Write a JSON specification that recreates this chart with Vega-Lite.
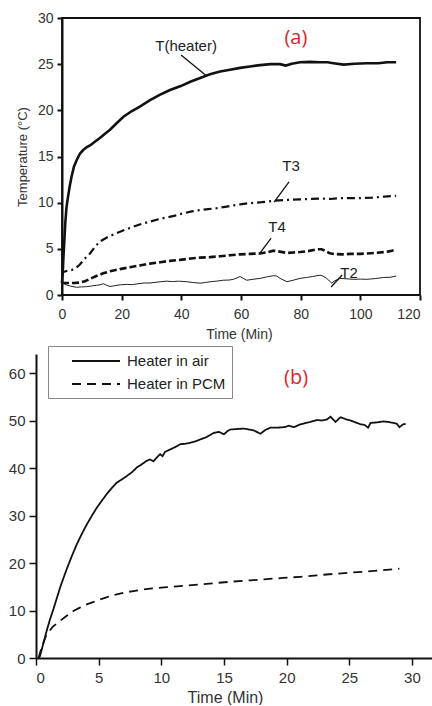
{
  "$schema": "https://vega.github.io/schema/vega-lite/v6.json",
  "padding": {"left": 8, "top": 11, "right": 0, "bottom": 0},
  "autosize": {"type": "pad"},
  "config": {
    "font": "Liberation Sans",
    "view": {"stroke": null},
    "axis": {"grid": false, "domainColor": "#111", "tickColor": "#111", "labelColor": "#333", "titleColor": "#333", "titleFontWeight": "normal", "labelFont": "Liberation Sans", "titleFont": "Liberation Sans"}
  },
  "datasets": {
    "a": [
      {"s":"T(heater)","t":0,"v":1.3},{"s":"T(heater)","t":0.3,"v":2.8},{"s":"T(heater)","t":0.5,"v":4.2},{"s":"T(heater)","t":0.8,"v":6},{"s":"T(heater)","t":1.1,"v":7.8},{"s":"T(heater)","t":1.5,"v":9.5},{"s":"T(heater)","t":2,"v":10.6},{"s":"T(heater)","t":2.6,"v":11.8},{"s":"T(heater)","t":3.2,"v":12.8},{"s":"T(heater)","t":4,"v":13.9},{"s":"T(heater)","t":4.9,"v":14.6},{"s":"T(heater)","t":6,"v":15.3},{"s":"T(heater)","t":7.1,"v":15.7},{"s":"T(heater)","t":8.2,"v":16},{"s":"T(heater)","t":9.4,"v":16.2},{"s":"T(heater)","t":11,"v":16.6},{"s":"T(heater)","t":12.7,"v":17},{"s":"T(heater)","t":14.5,"v":17.5},{"s":"T(heater)","t":16.1,"v":17.9},{"s":"T(heater)","t":18.3,"v":18.6},{"s":"T(heater)","t":20.6,"v":19.3},{"s":"T(heater)","t":23.3,"v":19.9},{"s":"T(heater)","t":26.1,"v":20.4},{"s":"T(heater)","t":29.5,"v":21.1},{"s":"T(heater)","t":32.9,"v":21.7},{"s":"T(heater)","t":36.2,"v":22.2},{"s":"T(heater)","t":39.6,"v":22.6},{"s":"T(heater)","t":43,"v":23.1},{"s":"T(heater)","t":46.3,"v":23.5},{"s":"T(heater)","t":49.6,"v":23.9},{"s":"T(heater)","t":53,"v":24.2},{"s":"T(heater)","t":56.3,"v":24.4},{"s":"T(heater)","t":59.7,"v":24.6},{"s":"T(heater)","t":63,"v":24.75},{"s":"T(heater)","t":66.4,"v":24.9},{"s":"T(heater)","t":70,"v":25},{"s":"T(heater)","t":73.1,"v":25},{"s":"T(heater)","t":75,"v":24.85},{"s":"T(heater)","t":77,"v":25.05},{"s":"T(heater)","t":79.8,"v":25.2},{"s":"T(heater)","t":83,"v":25.25},{"s":"T(heater)","t":86.5,"v":25.2},{"s":"T(heater)","t":89,"v":25.2},{"s":"T(heater)","t":91,"v":25.1},{"s":"T(heater)","t":94.4,"v":24.95},{"s":"T(heater)","t":98,"v":25.05},{"s":"T(heater)","t":102.2,"v":25.1},{"s":"T(heater)","t":106,"v":25.1},{"s":"T(heater)","t":109,"v":25.2},{"s":"T(heater)","t":112,"v":25.2},
      {"s":"T3","t":0,"v":2.1},{"s":"T3","t":0.5,"v":2.5},{"s":"T3","t":1.5,"v":2.6},{"s":"T3","t":3.2,"v":2.7},{"s":"T3","t":4.5,"v":2.9},{"s":"T3","t":6,"v":3.3},{"s":"T3","t":7.5,"v":3.9},{"s":"T3","t":9.4,"v":4.5},{"s":"T3","t":11,"v":5.2},{"s":"T3","t":12.7,"v":5.8},{"s":"T3","t":15.5,"v":6.3},{"s":"T3","t":18.3,"v":6.7},{"s":"T3","t":21,"v":7.05},{"s":"T3","t":23.9,"v":7.4},{"s":"T3","t":26.7,"v":7.7},{"s":"T3","t":29.5,"v":7.95},{"s":"T3","t":32.3,"v":8.2},{"s":"T3","t":35.1,"v":8.4},{"s":"T3","t":37.9,"v":8.6},{"s":"T3","t":40.7,"v":8.85},{"s":"T3","t":43.5,"v":9.05},{"s":"T3","t":46.3,"v":9.2},{"s":"T3","t":49,"v":9.3},{"s":"T3","t":51.9,"v":9.4},{"s":"T3","t":54.7,"v":9.55},{"s":"T3","t":57.5,"v":9.7},{"s":"T3","t":60.3,"v":9.85},{"s":"T3","t":63.1,"v":9.95},{"s":"T3","t":67,"v":10.05},{"s":"T3","t":70.9,"v":10.2},{"s":"T3","t":75,"v":10.3},{"s":"T3","t":79.8,"v":10.35},{"s":"T3","t":83,"v":10.4},{"s":"T3","t":86.5,"v":10.45},{"s":"T3","t":90,"v":10.4},{"s":"T3","t":93,"v":10.5},{"s":"T3","t":96.6,"v":10.5},{"s":"T3","t":100,"v":10.5},{"s":"T3","t":104,"v":10.55},{"s":"T3","t":108,"v":10.65},{"s":"T3","t":112,"v":10.75},
      {"s":"T4","t":0,"v":1.3},{"s":"T4","t":2,"v":1.3},{"s":"T4","t":4,"v":1.3},{"s":"T4","t":6,"v":1.35},{"s":"T4","t":7.7,"v":1.5},{"s":"T4","t":9.4,"v":1.75},{"s":"T4","t":11.5,"v":2.05},{"s":"T4","t":13.8,"v":2.35},{"s":"T4","t":16.5,"v":2.6},{"s":"T4","t":19.4,"v":2.8},{"s":"T4","t":22.7,"v":3.0},{"s":"T4","t":26.1,"v":3.2},{"s":"T4","t":29.5,"v":3.4},{"s":"T4","t":32.9,"v":3.55},{"s":"T4","t":36.2,"v":3.7},{"s":"T4","t":39.6,"v":3.8},{"s":"T4","t":43,"v":3.95},{"s":"T4","t":46.3,"v":4.05},{"s":"T4","t":49.6,"v":4.1},{"s":"T4","t":53,"v":4.2},{"s":"T4","t":56.3,"v":4.3},{"s":"T4","t":59.7,"v":4.4},{"s":"T4","t":63,"v":4.45},{"s":"T4","t":66.4,"v":4.5},{"s":"T4","t":69,"v":4.65},{"s":"T4","t":70.9,"v":4.8},{"s":"T4","t":73,"v":4.7},{"s":"T4","t":75.4,"v":4.55},{"s":"T4","t":77.5,"v":4.6},{"s":"T4","t":79.8,"v":4.65},{"s":"T4","t":82.5,"v":4.75},{"s":"T4","t":85.4,"v":4.95},{"s":"T4","t":87,"v":4.95},{"s":"T4","t":88.2,"v":4.8},{"s":"T4","t":89.5,"v":4.55},{"s":"T4","t":91,"v":4.45},{"s":"T4","t":94,"v":4.4},{"s":"T4","t":96.6,"v":4.45},{"s":"T4","t":100,"v":4.45},{"s":"T4","t":102.2,"v":4.5},{"s":"T4","t":105,"v":4.55},{"s":"T4","t":108,"v":4.65},{"s":"T4","t":110,"v":4.75},{"s":"T4","t":112,"v":4.9},
      {"s":"T2","t":0,"v":1.4},{"s":"T2","t":0.8,"v":1.2},{"s":"T2","t":1.5,"v":1.08},{"s":"T2","t":3,"v":0.95},{"s":"T2","t":4.9,"v":0.83},{"s":"T2","t":6.5,"v":0.88},{"s":"T2","t":8.2,"v":0.9},{"s":"T2","t":10,"v":0.98},{"s":"T2","t":11.5,"v":1.05},{"s":"T2","t":12.7,"v":1.1},{"s":"T2","t":13.8,"v":1.22},{"s":"T2","t":15,"v":1.05},{"s":"T2","t":16.1,"v":0.92},{"s":"T2","t":17.5,"v":1.0},{"s":"T2","t":19.5,"v":1.1},{"s":"T2","t":21.7,"v":1.15},{"s":"T2","t":23.5,"v":1.12},{"s":"T2","t":25.5,"v":1.22},{"s":"T2","t":27.5,"v":1.3},{"s":"T2","t":29.5,"v":1.3},{"s":"T2","t":31.5,"v":1.38},{"s":"T2","t":33.5,"v":1.45},{"s":"T2","t":35.1,"v":1.5},{"s":"T2","t":37,"v":1.45},{"s":"T2","t":39,"v":1.5},{"s":"T2","t":41.8,"v":1.44},{"s":"T2","t":44,"v":1.35},{"s":"T2","t":46.3,"v":1.28},{"s":"T2","t":48,"v":1.35},{"s":"T2","t":50,"v":1.45},{"s":"T2","t":51.9,"v":1.5},{"s":"T2","t":54,"v":1.6},{"s":"T2","t":56,"v":1.62},{"s":"T2","t":57.5,"v":1.7},{"s":"T2","t":59.7,"v":2.0},{"s":"T2","t":61.9,"v":1.6},{"s":"T2","t":64,"v":1.7},{"s":"T2","t":66.4,"v":1.8},{"s":"T2","t":68.5,"v":1.95},{"s":"T2","t":70.9,"v":2.1},{"s":"T2","t":72,"v":2.05},{"s":"T2","t":73.1,"v":1.8},{"s":"T2","t":75.4,"v":1.44},{"s":"T2","t":77.5,"v":1.6},{"s":"T2","t":79.8,"v":1.8},{"s":"T2","t":82,"v":1.9},{"s":"T2","t":84,"v":2.0},{"s":"T2","t":86.5,"v":2.15},{"s":"T2","t":87.5,"v":2.05},{"s":"T2","t":88.7,"v":1.8},{"s":"T2","t":90.4,"v":1.3},{"s":"T2","t":91.5,"v":1.55},{"s":"T2","t":93.2,"v":1.8},{"s":"T2","t":95.5,"v":1.75},{"s":"T2","t":97.7,"v":1.7},{"s":"T2","t":100,"v":1.72},{"s":"T2","t":102.2,"v":1.7},{"s":"T2","t":105,"v":1.78},{"s":"T2","t":107.8,"v":1.9},{"s":"T2","t":110,"v":1.92},{"s":"T2","t":112,"v":2.05}
    ],
    "aLabels": [
      {"label":"T(heater)","t":41.6,"v":27.0},
      {"label":"T3","t":76.8,"v":14.0},
      {"label":"T4","t":72.1,"v":7.36},
      {"label":"T2","t":96.2,"v":2.38}
    ],
    "aLeaders": [
      {"t":39.9,"v":26.0,"t2":48.6,"v2":23.7},
      {"t":76.1,"v":12.24,"t2":71.1,"v2":10.07},
      {"t":70.1,"v":6.17,"t2":66.4,"v2":4.55},
      {"t":93.9,"v":2.17,"t2":90.2,"v2":0.87}
    ],
    "b": [
      {"s":"Heater in air","t":0.2,"v":0},{"s":"Heater in air","t":0.32,"v":0.4},{"s":"Heater in air","t":0.6,"v":3.2},{"s":"Heater in air","t":0.85,"v":5.7},{"s":"Heater in air","t":1.1,"v":8},{"s":"Heater in air","t":1.38,"v":10.2},{"s":"Heater in air","t":1.65,"v":12.5},{"s":"Heater in air","t":1.92,"v":14.8},{"s":"Heater in air","t":2.2,"v":16.9},{"s":"Heater in air","t":2.45,"v":18.7},{"s":"Heater in air","t":2.85,"v":21.4},{"s":"Heater in air","t":3.25,"v":23.9},{"s":"Heater in air","t":3.65,"v":26.1},{"s":"Heater in air","t":4.05,"v":28.1},{"s":"Heater in air","t":4.45,"v":29.9},{"s":"Heater in air","t":4.84,"v":31.6},{"s":"Heater in air","t":5.25,"v":33.1},{"s":"Heater in air","t":5.64,"v":34.5},{"s":"Heater in air","t":6.05,"v":35.8},{"s":"Heater in air","t":6.44,"v":36.9},{"s":"Heater in air","t":6.85,"v":37.6},{"s":"Heater in air","t":7.24,"v":38.3},{"s":"Heater in air","t":7.65,"v":39.1},{"s":"Heater in air","t":8.04,"v":40.1},{"s":"Heater in air","t":8.45,"v":40.8},{"s":"Heater in air","t":8.83,"v":41.5},{"s":"Heater in air","t":9.1,"v":41.8},{"s":"Heater in air","t":9.36,"v":41.4},{"s":"Heater in air","t":9.6,"v":42.1},{"s":"Heater in air","t":9.9,"v":42.9},{"s":"Heater in air","t":10.1,"v":42.5},{"s":"Heater in air","t":10.3,"v":43.4},{"s":"Heater in air","t":10.7,"v":43.9},{"s":"Heater in air","t":11.1,"v":44.4},{"s":"Heater in air","t":11.5,"v":45.0},{"s":"Heater in air","t":11.9,"v":45.1},{"s":"Heater in air","t":12.3,"v":45.3},{"s":"Heater in air","t":12.7,"v":45.6},{"s":"Heater in air","t":13.1,"v":46.0},{"s":"Heater in air","t":13.6,"v":46.5},{"s":"Heater in air","t":14.2,"v":47.4},{"s":"Heater in air","t":14.6,"v":47.6},{"s":"Heater in air","t":15.0,"v":47.1},{"s":"Heater in air","t":15.3,"v":47.8},{"s":"Heater in air","t":15.5,"v":48.1},{"s":"Heater in air","t":16.0,"v":48.2},{"s":"Heater in air","t":16.6,"v":48.3},{"s":"Heater in air","t":17.0,"v":48.1},{"s":"Heater in air","t":17.4,"v":47.9},{"s":"Heater in air","t":17.9,"v":47.2},{"s":"Heater in air","t":18.3,"v":48.0},{"s":"Heater in air","t":18.7,"v":48.5},{"s":"Heater in air","t":19.3,"v":48.5},{"s":"Heater in air","t":19.8,"v":48.6},{"s":"Heater in air","t":20.2,"v":48.9},{"s":"Heater in air","t":20.6,"v":48.6},{"s":"Heater in air","t":21.0,"v":49.1},{"s":"Heater in air","t":21.3,"v":49.3},{"s":"Heater in air","t":21.9,"v":49.7},{"s":"Heater in air","t":22.4,"v":50.1},{"s":"Heater in air","t":22.8,"v":50.0},{"s":"Heater in air","t":23.2,"v":50.2},{"s":"Heater in air","t":23.5,"v":50.8},{"s":"Heater in air","t":23.9,"v":49.7},{"s":"Heater in air","t":24.3,"v":50.7},{"s":"Heater in air","t":24.7,"v":50.3},{"s":"Heater in air","t":25.1,"v":50.0},{"s":"Heater in air","t":25.5,"v":49.6},{"s":"Heater in air","t":25.9,"v":49.2},{"s":"Heater in air","t":26.2,"v":49.1},{"s":"Heater in air","t":26.5,"v":48.5},{"s":"Heater in air","t":26.7,"v":49.5},{"s":"Heater in air","t":27.2,"v":49.6},{"s":"Heater in air","t":27.7,"v":49.8},{"s":"Heater in air","t":28.1,"v":49.7},{"s":"Heater in air","t":28.5,"v":49.5},{"s":"Heater in air","t":28.8,"v":49.3},{"s":"Heater in air","t":29.0,"v":48.6},{"s":"Heater in air","t":29.3,"v":49.2},{"s":"Heater in air","t":29.5,"v":49.3},
      {"s":"Heater in PCM","t":0.2,"v":0},{"s":"Heater in PCM","t":0.45,"v":2.2},{"s":"Heater in PCM","t":0.85,"v":5.0},{"s":"Heater in PCM","t":1.35,"v":6.6},{"s":"Heater in PCM","t":1.92,"v":7.8},{"s":"Heater in PCM","t":2.45,"v":8.9},{"s":"Heater in PCM","t":2.98,"v":9.9},{"s":"Heater in PCM","t":3.5,"v":10.6},{"s":"Heater in PCM","t":4.05,"v":11.3},{"s":"Heater in PCM","t":4.6,"v":11.8},{"s":"Heater in PCM","t":5.1,"v":12.3},{"s":"Heater in PCM","t":5.8,"v":12.9},{"s":"Heater in PCM","t":6.44,"v":13.4},{"s":"Heater in PCM","t":7.1,"v":13.8},{"s":"Heater in PCM","t":7.77,"v":14.1},{"s":"Heater in PCM","t":8.4,"v":14.35},{"s":"Heater in PCM","t":9.1,"v":14.6},{"s":"Heater in PCM","t":9.8,"v":14.75},{"s":"Heater in PCM","t":10.43,"v":14.9},{"s":"Heater in PCM","t":11.8,"v":15.2},{"s":"Heater in PCM","t":13.1,"v":15.5},{"s":"Heater in PCM","t":14.4,"v":15.8},{"s":"Heater in PCM","t":15.75,"v":16.1},{"s":"Heater in PCM","t":17.1,"v":16.35},{"s":"Heater in PCM","t":18.4,"v":16.6},{"s":"Heater in PCM","t":19.7,"v":16.85},{"s":"Heater in PCM","t":21.1,"v":17.1},{"s":"Heater in PCM","t":22.4,"v":17.4},{"s":"Heater in PCM","t":23.7,"v":17.7},{"s":"Heater in PCM","t":25.0,"v":17.95},{"s":"Heater in PCM","t":26.4,"v":18.2},{"s":"Heater in PCM","t":27.7,"v":18.5},{"s":"Heater in PCM","t":29.0,"v":18.8}
    ]
  },
  "concat": [
    {
      "width": 384,
      "height": 277,
      "encoding": {
        "x": {"field": "t", "type": "quantitative", "scale": {"domain": [-8.716, 120], "nice": false, "zero": false},
          "axis": {"title": "Time (Min)", "values": [0, 20, 40, 60, 80, 100, 120], "domain": false, "tickWidth": 2, "tickSize": 5, "labelPadding": 7, "labelFontSize": 14, "titleFontSize": 14, "titlePadding": 6, "titleX": 203}},
        "y": {"field": "v", "type": "quantitative", "scale": {"domain": [0, 30], "nice": false},
          "axis": {"title": "Temperature (°C)", "offset": -26, "values": [0, 5, 10, 15, 20, 25, 30], "domainWidth": 2, "tickWidth": 2, "tickSize": 5, "labelPadding": 4, "labelFontSize": 14, "titleFontSize": 13, "titlePadding": 8}}
      },
      "layer": [
        {"data": {"values": [{"t": 0, "t2": 120, "v": 0, "v2": 30}]}, "mark": {"type": "rect", "filled": false, "stroke": "#111", "strokeWidth": 1.8},
          "encoding": {"x2": {"field": "t2"}, "y2": {"field": "v2"}}},
        {"data": {"name": "a"}, "transform": [{"filter": "datum.s == 'T(heater)'"}], "mark": {"type": "line", "color": "#111", "strokeWidth": 2.6}},
        {"data": {"name": "a"}, "transform": [{"filter": "datum.s == 'T3'"}], "mark": {"type": "line", "color": "#111", "strokeWidth": 2.2, "strokeDash": [8, 4, 2, 4]}},
        {"data": {"name": "a"}, "transform": [{"filter": "datum.s == 'T4'"}], "mark": {"type": "line", "color": "#111", "strokeWidth": 2.6, "strokeDash": [7, 3]}},
        {"data": {"name": "a"}, "transform": [{"filter": "datum.s == 'T2'"}], "mark": {"type": "line", "color": "#222", "strokeWidth": 1}},
        {"data": {"name": "aLeaders"}, "mark": {"type": "rule", "color": "#111", "strokeWidth": 1.3},
          "encoding": {"x2": {"field": "t2"}, "y2": {"field": "v2"}}},
        {"data": {"name": "aLabels"}, "mark": {"type": "text", "fontSize": 15, "color": "#222", "font": "Liberation Sans"},
          "encoding": {"text": {"field": "label"}}},
        {"data": {"values": [{"label": "(a)", "t": 78.4, "v": 27.8}]}, "mark": {"type": "text", "fontSize": 20, "color": "#d9262c", "font": "Open Sans"},
          "encoding": {"text": {"field": "label"}}}
      ]
    },
    {
      "width": 396,
      "height": 304,
      "encoding": {
        "x": {"field": "t", "type": "quantitative", "scale": {"domain": [0, 31.6], "nice": false},
          "axis": {"title": "Time (Min)", "values": [0, 5, 10, 15, 20, 25, 30], "domainWidth": 2, "tickWidth": 1.5, "tickSize": 7, "labelPadding": 5, "labelFontSize": 15, "titleFontSize": 16, "titlePadding": 4, "titleX": 189}},
        "y": {"field": "v", "type": "quantitative", "scale": {"domain": [0, 64], "nice": false},
          "axis": {"title": null, "values": [0, 10, 20, 30, 40, 50, 60], "domainWidth": 2, "tickWidth": 1.5, "tickSize": 7, "labelPadding": 4, "labelFontSize": 15}}
      },
      "layer": [
        {"data": {"name": "b"}, "mark": {"type": "line", "color": "#111", "strokeWidth": 1.8},
          "encoding": {"strokeDash": {"field": "s", "type": "nominal",
            "scale": {"domain": ["Heater in air", "Heater in PCM"], "range": [[1, 0], [9, 6]]},
            "legend": {"orient": "none", "legendX": 12, "legendY": -8, "title": null, "strokeColor": "#888", "fillColor": "white", "padding": 6, "symbolType": "M-3,0H3", "symbolSize": 256, "symbolOffset": 33, "symbolStrokeWidth": 2, "symbolStrokeColor": "#111", "symbolFillColor": "transparent", "labelFontSize": 15, "labelColor": "#222", "labelFont": "Liberation Sans", "labelOffset": 22, "rowPadding": 6}}}},
        {"data": {"values": [{"label": "(b)", "t": 20.75, "v": 58.9}]}, "mark": {"type": "text", "fontSize": 20, "color": "#d9262c", "font": "Open Sans"},
          "encoding": {"text": {"field": "label"}}}
      ]
    }
  ],
  "columns": 1,
  "align": "none",
  "spacing": 4,
  "resolve": {"legend": {"strokeDash": "independent"}}
}
